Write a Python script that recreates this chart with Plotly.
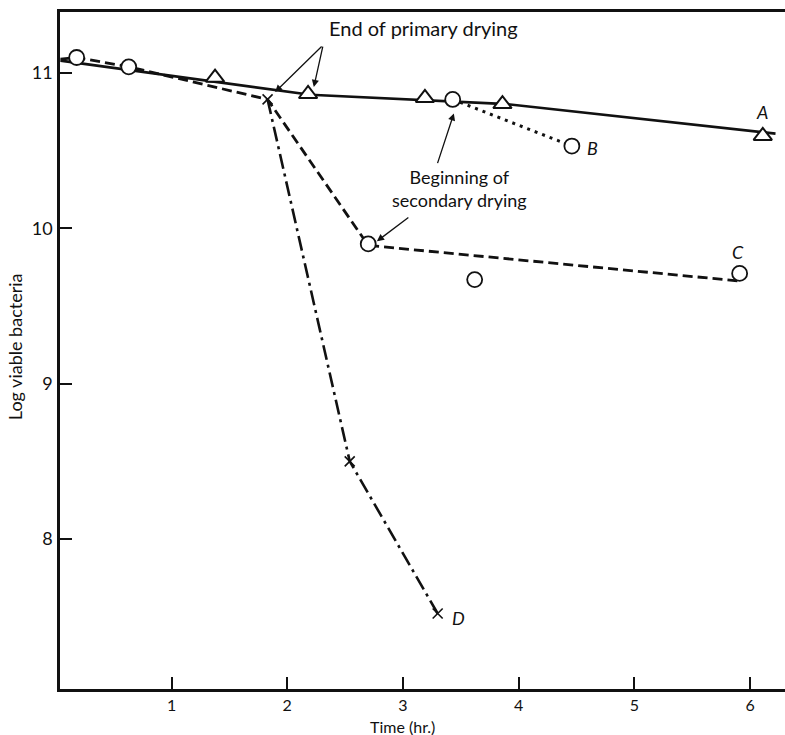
import plotly.graph_objects as go

# --- measured points -------------------------------------------------------
# A: triangles
time_a = [1.376, 2.18, 3.19, 3.86, 6.11]
logv_a = [10.97, 10.865, 10.84, 10.80, 10.595]
# open circles (B and C runs)
time_o = [0.18, 0.63, 2.70, 3.43, 4.46, 3.62, 5.91]
logv_o = [11.10, 11.04, 9.90, 10.83, 10.53, 9.67, 9.71]
# D: crosses
time_d = [1.83, 2.54, 3.30]
logv_d = [10.83, 8.50, 7.52]

# --- drawn curves ----------------------------------------------------------
curve_a_t = [0.04, 2.20, 3.90, 6.22]
curve_a_v = [11.08, 10.86, 10.80, 10.61]
curve_b_t = [3.43, 4.46]
curve_b_v = [10.83, 10.53]
curve_c_t = [0.04, 0.18, 0.63, 1.83, 2.70, 5.92]
curve_c_v = [11.09, 11.10, 11.04, 10.83, 9.89, 9.66]
curve_d_t = [1.83, 2.54, 3.30]
curve_d_v = [10.83, 8.50, 7.52]

# curve letters
label_text = ["A", "B", "C", "D"]
label_t = [6.10, 4.64, 5.90, 3.48]
label_v = [10.75, 10.52, 9.85, 7.49]

x_ticks = [1, 2, 3, 4, 5, 6]
y_ticks = [8, 9, 10, 11]

INK = "#111111"
FONT = "Lato"

fig = go.Figure()

fig.add_trace(go.Scatter(x=curve_a_t, y=curve_a_v, mode="lines",
                         line=dict(color=INK, width=2.6), hoverinfo="skip"))
fig.add_trace(go.Scatter(x=curve_b_t, y=curve_b_v, mode="lines",
                         line=dict(color=INK, width=3, dash="3px,5px"), hoverinfo="skip"))
fig.add_trace(go.Scatter(x=curve_c_t, y=curve_c_v, mode="lines",
                         line=dict(color=INK, width=2.8, dash="10px,5px"), hoverinfo="skip"))
fig.add_trace(go.Scatter(x=curve_d_t, y=curve_d_v, mode="lines",
                         line=dict(color=INK, width=2.6, dash="15px,5px,3px,5px"), hoverinfo="skip"))

fig.add_trace(go.Scatter(x=time_a, y=logv_a, mode="markers",
                         marker=dict(symbol="triangle-up", size=16, color="white",
                                     line=dict(color=INK, width=2))))
fig.add_trace(go.Scatter(x=time_o, y=logv_o, mode="markers",
                         marker=dict(symbol="circle", size=15, color="white",
                                     line=dict(color=INK, width=1.8))))
fig.add_trace(go.Scatter(x=time_d, y=logv_d, mode="markers",
                         marker=dict(symbol="x-thin", size=10,
                                     line=dict(color=INK, width=1.6))))

annotations = []
for txt, t, v in zip(label_text, label_t, label_v):
    annotations.append(dict(x=t, y=v, text=f"<i>{txt}</i>", showarrow=False,
                            font=dict(family=FONT, size=18, color=INK)))

# pointer notes
annotations.append(dict(x=3.18, y=11.29, text="End of primary drying", showarrow=False,
                        font=dict(family=FONT, size=20, color=INK)))
annotations.append(dict(x=3.49, y=10.256, text="Beginning of<br>secondary drying",
                        showarrow=False, font=dict(family=FONT, size=18, color=INK)))

arrows = [
    ((2.31, 11.18), (1.895, 10.878)),
    ((2.31, 11.18), (2.23, 10.91)),
    ((3.295, 10.41), (3.44, 10.74)),
    ((3.06, 10.077), (2.775, 9.917)),
]
for (tx, ty), (hx, hy) in arrows:
    annotations.append(dict(x=hx, y=hy, ax=tx, ay=ty, axref="x", ayref="y",
                            xref="x", yref="y", text="", showarrow=True,
                            arrowhead=2, arrowsize=1.1, arrowwidth=1.3,
                            arrowcolor=INK, standoff=0))

annotations.append(dict(x=3.0, xref="x", y=-0.0547, yref="paper", text="Time (hr.)",
                        showarrow=False, yanchor="middle",
                        font=dict(family=FONT, size=16, color=INK)))
annotations.append(dict(x=-0.062, xref="paper", y=0.505, yref="paper",
                        text="Log viable bacteria", textangle=-90, showarrow=False,
                        xanchor="center", yanchor="middle",
                        font=dict(family=FONT, size=18, color=INK)))

fig.update_layout(
    width=785, height=735,
    margin=dict(l=60, r=0, t=12, b=46),
    paper_bgcolor="white", plot_bgcolor="white",
    showlegend=False,
    annotations=annotations,
    font=dict(family=FONT, color=INK),
)
fig.update_xaxes(range=[0.036, 6.302], tickvals=x_ticks, ticktext=[str(v) for v in x_ticks],
                 showgrid=False, zeroline=False, showline=True, linecolor=INK,
                 linewidth=2.6, mirror=True, ticks="inside", ticklen=12, tickwidth=2.4,
                 tickcolor=INK, tickfont=dict(family=FONT, size=16, color=INK))
fig.update_yaxes(range=[7.034, 11.393], tickvals=y_ticks, ticktext=[str(v) for v in y_ticks],
                 showgrid=False, zeroline=False, showline=True, linecolor=INK,
                 linewidth=2.6, ticks="inside", ticklen=12, tickwidth=2.4,
                 tickcolor=INK, ticklabelstandoff=1,
                 tickfont=dict(family=FONT, size=18, color=INK))

fig.write_html("out.html")
